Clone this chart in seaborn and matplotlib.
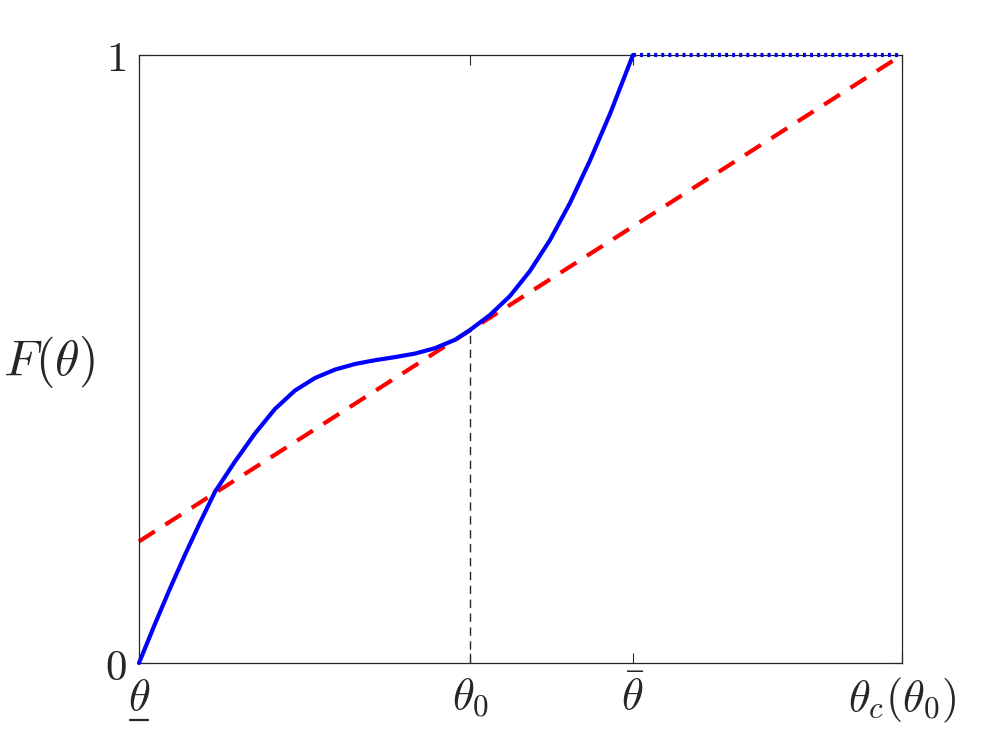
import numpy as np
import matplotlib
matplotlib.use("Agg")
import matplotlib.pyplot as plt
import seaborn as sns

# ── data (axis units 0..1) ──
theta_lo = 0.0
theta_0 = 0.434
theta_bar = 0.647
theta_c = 1.0

blue_x = [0.0, 0.0210, 0.0406, 0.0603, 0.0799, 0.0996, 0.1258, 0.1520, 0.1782,
          0.2045, 0.2307, 0.2569, 0.2831, 0.3093, 0.3355, 0.3617, 0.3879,
          0.4142, 0.4338, 0.4600, 0.4862, 0.5124, 0.5387, 0.5649, 0.5911,
          0.6173, 0.6474]
blue_y = [0.0, 0.0645, 0.1224, 0.1780, 0.2309, 0.2816, 0.3314, 0.3775, 0.4178,
          0.4482, 0.4688, 0.4826, 0.4918, 0.4980, 0.5031, 0.5089, 0.5178,
          0.5316, 0.5477, 0.5724, 0.6036, 0.6447, 0.6957, 0.7566, 0.8265,
          0.9030, 1.0]
flat_x = [theta_bar, theta_c]
flat_y = [1.0, 1.0]
red_x = [0.0, 1.0]
red_y = [0.2, 1.0]
vline_x = [theta_0, theta_0]
vline_y = [0.0, 0.548]

xtick_pos = [theta_lo, theta_0, theta_bar, theta_c]
xtick_lab = [r"$\theta$", r"$\theta_0$", r"$\bar{\theta}$", r"$\theta_c(\theta_0)$"]
ytick_pos = [0, 1]
ytick_lab = [r"$0$", r"$1$"]

sns.set_theme(style="ticks")
plt.rcParams.update({"mathtext.fontset": "cm", "font.family": ["DejaVu Serif"],
                     "axes.edgecolor": "#262626", "text.color": "#262626",
                     "xtick.color": "#262626", "ytick.color": "#262626"})

fig = plt.figure(figsize=(9.97, 7.47), dpi=100)
ax = fig.add_axes([0.1394, 0.1124, 0.7653, 0.8140])

sns.lineplot(x=blue_x, y=blue_y, ax=ax, color="#0000ff", linewidth=3,
             estimator=None, sort=False, clip_on=False, zorder=3,
             solid_joinstyle="round")
sns.lineplot(x=flat_x, y=flat_y, ax=ax, color="#0000ff", linewidth=3,
             linestyle=(0, (0.7, 1.0)), estimator=None, clip_on=False, zorder=3)
sns.lineplot(x=red_x, y=red_y, ax=ax, color="#ff0000", linewidth=3,
             linestyle=(0, (4.5, 3)), estimator=None, clip_on=False, zorder=2)
ax.plot(vline_x, vline_y, color="#262626", linewidth=1, linestyle=(0, (6, 4)))

ax.set_xlim(0, 1)
ax.set_ylim(0, 1)
ax.set_xticks(xtick_pos)
ax.set_xticklabels(xtick_lab, fontsize=32)
ax.set_yticks(ytick_pos)
ax.set_yticklabels(ytick_lab, fontsize=31)
ax.tick_params(direction="in", length=7, width=0.8, top=True, right=True)
ax.tick_params(axis="x", pad=9)
ax.tick_params(axis="y", pad=9)
for sp in ax.spines.values():
    sp.set_linewidth(0.9)

# underline for the lower-bound theta label
ax.plot([-0.012, 0.012], [-0.093, -0.093], transform=ax.get_xaxis_transform(),
        color="#262626", linewidth=1.6, clip_on=False)

ax.set_ylabel(r"$F(\theta)$", fontsize=36, rotation=0, va="center", ha="center")
ax.yaxis.set_label_coords(-0.118, 0.495)

fig.savefig("out.png", dpi=100)
